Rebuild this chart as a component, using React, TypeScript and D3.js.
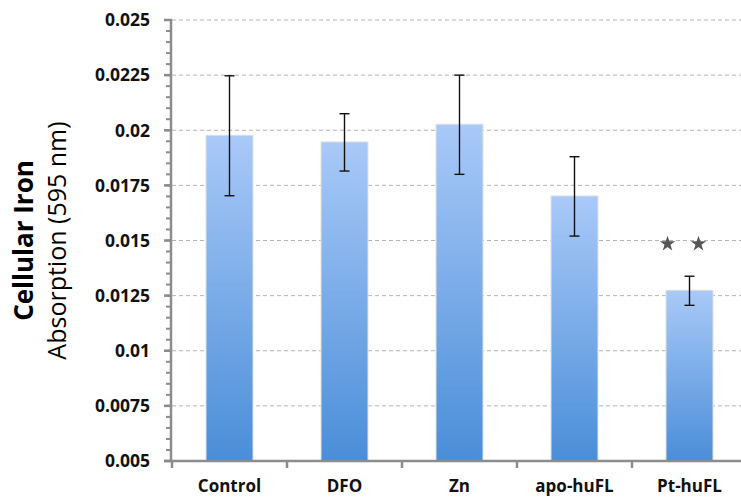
import React from "react";
import * as d3 from "d3";

const categories = ["Control", "DFO", "Zn", "apo-huFL", "Pt-huFL"];
const values = [0.01975, 0.01945, 0.02025, 0.017, 0.01272];
const errors = [0.00272, 0.0013, 0.00225, 0.0018, 0.00066];
const yTicks = [0.005, 0.0075, 0.01, 0.0125, 0.015, 0.0175, 0.02, 0.0225, 0.025];
const yTickLabels = ["0.005", "0.0075", "0.01", "0.0125", "0.015", "0.0175", "0.02", "0.0225", "0.025"];
const starCategory = "Pt-huFL";
const starValue = 0.01485;

const W = 741;
const H = 497;
const left = 172;
const top = 20;
const bottom = 461;

export default function App() {
  const x = d3.scaleBand<string>().domain(categories).range([left, left + 115 * 5]).padding(0);
  const y = d3.scaleLinear().domain([0.005, 0.025]).range([bottom, top]);
  const bw = x.bandwidth() * 0.4;
  const minor = d3.range(0, 41).map((i) => 0.005 + i * 0.0005);
  const axisColor = "#8c8c8c";
  const star = d3.symbol().type(d3.symbolStar).size(75)()!;
  const sx = (x(starCategory) as number) + x.bandwidth() / 2;

  return (
    <svg width={W} height={H} style={{ position: "absolute", left: 0, top: 0, background: "#fff" }}>
      <defs>
        <linearGradient id="barGrad" x1="0" y1="0" x2="0" y2="1">
          <stop offset="0%" stopColor="#a9c9f8" />
          <stop offset="100%" stopColor="#4a8ed8" />
        </linearGradient>
      </defs>
      {yTicks.slice(1).map((t) => (
        <line key={"g" + t} x1={left} x2={W} y1={y(t)} y2={y(t)} stroke="#b4b4b4" strokeWidth={1} strokeDasharray="4,3" />
      ))}
      {categories.map((c, i) => {
        const cx = (x(c) as number) + x.bandwidth() / 2;
        return (
          <g key={c}>
            <rect x={cx - bw / 2 - 1} y={y(values[i]) - 1} width={bw + 2} height={bottom - y(values[i]) + 1} fill="#e2e2e2" />
            <rect x={cx - bw / 2} y={y(values[i])} width={bw} height={bottom - y(values[i])} fill="url(#barGrad)" />
          </g>
        );
      })}
      {categories.map((c, i) => {
        const cx = (x(c) as number) + x.bandwidth() / 2;
        const y1 = y(values[i] + errors[i]);
        const y2 = y(values[i] - errors[i]);
        return (
          <g key={"e" + c} stroke="#111" strokeWidth={1.4}>
            <line x1={cx} x2={cx} y1={y1} y2={y2} />
            <line x1={cx - 5} x2={cx + 5} y1={y1} y2={y1} />
            <line x1={cx - 5} x2={cx + 5} y1={y2} y2={y2} />
          </g>
        );
      })}
      <path d={star} transform={`translate(${sx - 22},${y(starValue)})`} fill="#555" />
      <path d={star} transform={`translate(${sx + 9},${y(starValue)})`} fill="#555" />
      <line x1={left - 1} x2={left - 1} y1={top - 1} y2={bottom + 1} stroke={axisColor} strokeWidth={2.5} />
      {minor.map((t) => (
        <line key={"m" + t} x1={left - 6} x2={left} y1={y(t)} y2={y(t)} stroke={axisColor} strokeWidth={2} />
      ))}
      {yTicks.map((t) => (
        <line key={"t" + t} x1={left - 8} x2={left} y1={y(t)} y2={y(t)} stroke={axisColor} strokeWidth={2.5} />
      ))}
      {yTicks.map((t, i) => (
        <text key={"l" + t} x={150} y={y(t)} dy="0.36em" textAnchor="end" fontFamily="'Open Sans'" fontWeight="bold" fontSize={17.5} fill="#111">
          {yTickLabels[i]}
        </text>
      ))}
      <line x1={left - 8} x2={W} y1={bottom} y2={bottom} stroke={axisColor} strokeWidth={2.5} />
      {categories.map((c) => (
        <line key={"xt" + c} x1={x(c) as number} x2={x(c) as number} y1={bottom} y2={bottom + 7} stroke={axisColor} strokeWidth={2.5} />
      ))}
      {categories.map((c) => (
        <text key={"xl" + c} x={(x(c) as number) + x.bandwidth() / 2} y={492} textAnchor="middle" fontFamily="'Open Sans'" fontWeight="bold" fontSize={17} fill="#111">
          {c}
        </text>
      ))}
      <text transform={`translate(33,${(top + bottom) / 2}) rotate(-90)`} textAnchor="middle" fontFamily="'Open Sans'" fontWeight="bold" fontSize={26} fill="#000">
        Cellular Iron
      </text>
      <text transform={`translate(66,${(top + bottom) / 2}) rotate(-90)`} textAnchor="middle" fontFamily="'Open Sans'" fontSize={25} fill="#000">
        Absorption (595 nm)
      </text>
    </svg>
  );
}
